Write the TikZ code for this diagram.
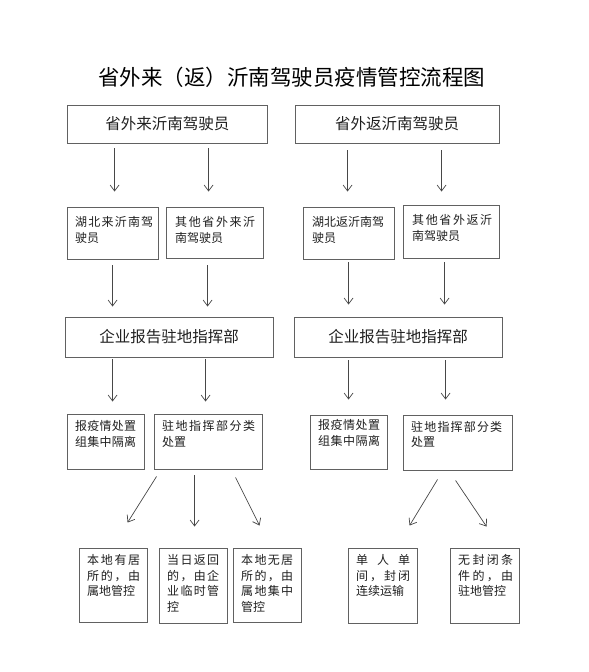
\documentclass[tikz,border=0pt]{standalone}
\usepackage{fontspec}
\setmainfont{Noto Sans CJK SC}
\usetikzlibrary{arrows.meta,fit}
\makeatletter
\newcommand\jl[2]{\makebox[#1][s]{\jl@i#2\@nil}}
\def\jl@i#1#2\@nil{#1\ifx\relax#2\relax\else\hfil\jl@i#2\@nil\fi}
\makeatother
\begin{document}
\begin{tikzpicture}[x=1pt,y=-1pt,
  box/.style={draw=black!62, line width=0.9pt, inner sep=0pt},
  arr/.style={draw=black!72, line width=0.7pt, -{Straight Barb[length=6pt,width=9pt]}},
  big/.style={font=\fontsize{15.5}{18}\selectfont, text=black!88, inner sep=0pt},
  small/.style={font=\fontsize{12}{15.7}\selectfont, text=black!88, inner sep=0pt, anchor=base west}]
\useasboundingbox (0,0) rectangle (589,672);

\node[font=\fontsize{21.5}{24}\selectfont, inner sep=0pt] (title) at (291.5,77) {省外来（返）沂南驾驶员疫情管控流程图};

% row 1
\node[box, fit={(67.5,105)(267,143)}] (A1) {};
\node[box, fit={(295,105)(499,143)}] (B1) {};
\node[big] (A1t) at (A1.center) {省外来沂南驾驶员};
\node[big] (B1t) at (B1.center) {省外返沂南驾驶员};

% row 2
\node[box, fit={(67,207)(158,259)}] (A2a) {};
\node[box, fit={(166,207)(263,258)}] (A2b) {};
\node[box, fit={(303,207)(394,259)}] (B2a) {};
\node[box, fit={(403,205)(499,258)}] (B2b) {};
\node[small] (A2at) at (75,226.5) {\parbox[t]{90pt}{\jl{78pt}{湖北来沂南驾}\\驶员}};
\node[small] (A2bt) at (175,226.5) {\parbox[t]{90pt}{\jl{80pt}{其他省外来沂}\\南驾驶员}};
\node[small] (B2at) at (312,226.5) {\parbox[t]{90pt}{\jl{72pt}{湖北返沂南驾}\\驶员}};
\node[small] (B2bt) at (412,224.5) {\parbox[t]{90pt}{\jl{80pt}{其他省外返沂}\\南驾驶员}};

% row 3
\node[box, fit={(65,317)(273,357)}] (A3) {};
\node[box, fit={(294,317)(502,357)}] (B3) {};
\node[big] (A3t) at (A3.center) {企业报告驻地指挥部};
\node[big] (B3t) at (B3.center) {企业报告驻地指挥部};

% row 4
\node[box, fit={(67,414)(144,469)}] (A4a) {};
\node[box, fit={(154,414)(262,469)}] (A4b) {};
\node[box, fit={(310,415)(387,469)}] (B4a) {};
\node[box, fit={(403,415)(512,470)}] (B4b) {};
\node[small] (A4at) at (75,430.5) {\parbox[t]{90pt}{\jl{61pt}{报疫情处置}\\\jl{61pt}{组集中隔离}}};
\node[small] (A4bt) at (162,430.5) {\parbox[t]{100pt}{\jl{93pt}{驻地指挥部分类}\\处置}};
\node[small] (B4at) at (318,429.5) {\parbox[t]{90pt}{\jl{62pt}{报疫情处置}\\\jl{62pt}{组集中隔离}}};
\node[small] (B4bt) at (411,431) {\parbox[t]{100pt}{\jl{91pt}{驻地指挥部分类}\\处置}};

% row 5
\node[box, fit={(79,548)(147,622)}] (A5a) {};
\node[box, fit={(159,548)(227,623)}] (A5b) {};
\node[box, fit={(233,548)(301,622)}] (A5c) {};
\node[box, fit={(348,548)(417,623)}] (B5a) {};
\node[box, fit={(450,548)(519,623)}] (B5b) {};
\node[small] (A5at) at (87,564.5) {\parbox[t]{60pt}{\jl{53pt}{本地有居}\\\jl{53pt}{所的，由}\\属地管控}};
\node[small] (A5bt) at (167,564.5) {\parbox[t]{60pt}{\jl{52pt}{当日返回}\\\jl{52pt}{的，由企}\\\jl{52pt}{业临时管}\\控}};
\node[small] (A5ct) at (241,564.5) {\parbox[t]{60pt}{\jl{52pt}{本地无居}\\\jl{52pt}{所的，由}\\\jl{52pt}{属地集中}\\管控}};
\node[small] (B5at) at (356,564.5) {\parbox[t]{60pt}{\jl{54pt}{单人单}\\\jl{54pt}{间，封闭}\\连续运输}};
\node[small] (B5bt) at (458,564.5) {\parbox[t]{60pt}{\jl{55pt}{无封闭条}\\\jl{55pt}{件的，由}\\驻地管控}};

% arrows row1 -> row2
\draw[arr] ([shift={(47.5,5)}]A1.south west) -- ([shift={(48,-15)}]A2a.north west);
\draw[arr] ([shift={(141.5,5)}]A1.south west) -- ([shift={(43,-15)}]A2b.north west);
\draw[arr] ([shift={(53,7)}]B1.south west) -- ([shift={(45,-15)}]B2a.north west);
\draw[arr] ([shift={(147,7)}]B1.south west) -- ([shift={(39,-13)}]B2b.north west);
% row2 -> row3
\draw[arr] ([shift={(46,6)}]A2a.south west) -- ([shift={(48,-10)}]A3.north west);
\draw[arr] ([shift={(42,7)}]A2b.south west) -- ([shift={(143,-10)}]A3.north west);
\draw[arr] ([shift={(46,3)}]B2a.south west) -- ([shift={(55,-12)}]B3.north west);
\draw[arr] ([shift={(42,4)}]B2b.south west) -- ([shift={(151,-12)}]B3.north west);
% row3 -> row4
\draw[arr] ([shift={(48,2)}]A3.south west) -- ([shift={(46,-12)}]A4a.north west);
\draw[arr] ([shift={(141,2)}]A3.south west) -- ([shift={(52,-12)}]A4b.north west);
\draw[arr] ([shift={(55,3)}]B3.south west) -- ([shift={(39,-15)}]B4a.north west);
\draw[arr] ([shift={(152,3)}]B3.south west) -- ([shift={(43,-15)}]B4b.north west);
% row4 -> row5
\draw[arr] ([shift={(3,7)}]A4b.south west) -- ([shift={(49,-25)}]A5a.north west);
\draw[arr] ([shift={(41,6)}]A4b.south west) -- ([shift={(36,-21)}]A5b.north west);
\draw[arr] ([shift={(82,8)}]A4b.south west) -- ([shift={(27,-22)}]A5c.north west);
\draw[arr] ([shift={(35,9)}]B4b.south west) -- ([shift={(62,-22)}]B5a.north west);
\draw[arr] ([shift={(53,10)}]B4b.south west) -- ([shift={(37,-21)}]B5b.north west);
\end{tikzpicture}
\end{document}
